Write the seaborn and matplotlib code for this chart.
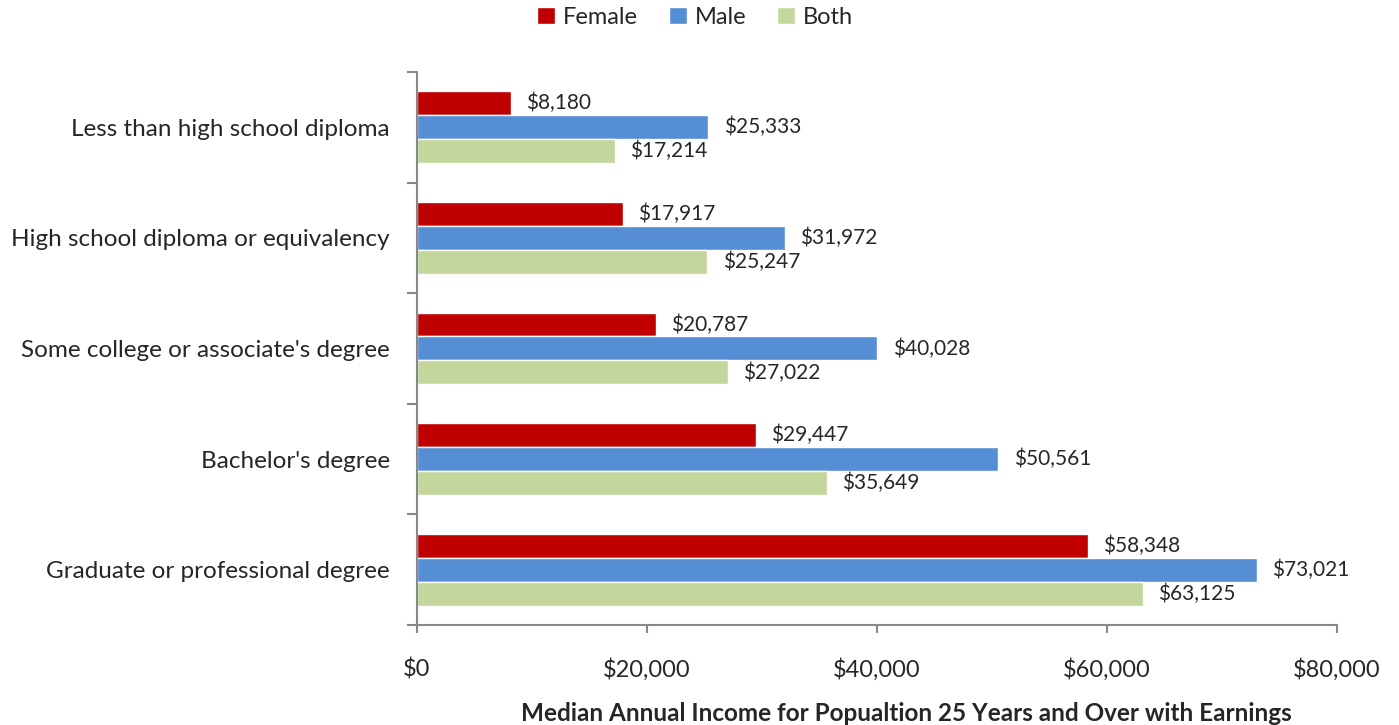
import pandas as pd
import matplotlib.pyplot as plt
import seaborn as sns

categories = ["Less than high school diploma", "High school diploma or equivalency",
              "Some college or associate's degree", "Bachelor's degree",
              "Graduate or professional degree"]
female = [8180, 17917, 20787, 29447, 58348]
male = [25333, 31972, 40028, 50561, 73021]
both = [17214, 25247, 27022, 35649, 63125]
series = ["Female", "Male", "Both"]
colors = ["#C00000", "#558ED5", "#C3D69B"]
xticks = [0, 20000, 40000, 60000, 80000]

# long format for seaborn
df = pd.DataFrame({"category": categories * 3,
                   "group": ["Female"] * 5 + ["Male"] * 5 + ["Both"] * 5,
                   "income": female + male + both})

sns.set_style("white")
plt.rcParams['font.family'] = ['Lato', 'DejaVu Sans']

fig = plt.figure(figsize=(13.99, 7.25), dpi=100)
ax = fig.add_axes([0.298, 0.138, 0.6577, 0.7627])

sns.barplot(data=df, y="category", x="income", hue="group", hue_order=series,
            palette=colors, saturation=1, order=categories, orient="h", width=0.65,
            ax=ax, legend=True)

for cont in ax.containers:
    ax.bar_label(cont, labels=[f"${v:,.0f}" for v in cont.datavalues],
                 padding=11, fontsize=15)

ax.set_xlim(0, 80000)
ax.set_ylim(4.5, -0.5)
ax.set_xticks(xticks)
ax.set_xticklabels([f"${v:,.0f}" for v in xticks], fontsize=17)
ax.tick_params(axis="x", bottom=True, direction="out", length=6, width=1.5,
               color="#888888", pad=18)

# category boundary ticks on the y axis
ax.set_yticks([-0.5, 0.5, 1.5, 2.5, 3.5, 4.5], minor=True)
ax.tick_params(axis="y", which="minor", left=True, direction="out", length=7,
               width=1.5, color="#888888")
ax.tick_params(axis="y", which="major", length=0, pad=19.5, labelsize=17.5)

for s in ["top", "right"]:
    ax.spines[s].set_visible(False)
for s in ["left", "bottom"]:
    ax.spines[s].set_color("#888888")
    ax.spines[s].set_linewidth(1.5)

ax.set_ylabel("")
ax.set_xlabel("Median Annual Income for Popualtion 25 Years and Over with Earnings",
              fontsize=17.5, fontweight="bold")
ax.xaxis.set_label_coords(0.532, -0.14)

handles, labels = ax.get_legend_handles_labels()
ax.get_legend().remove()
fig.legend(handles, labels, loc="upper center", bbox_to_anchor=(0.497, 1.02), ncol=3,
           frameon=False, fontsize=17, handlelength=0.75, handleheight=0.75,
           handletextpad=0.35, columnspacing=1.3)

fig.savefig("out.png", dpi=100)
